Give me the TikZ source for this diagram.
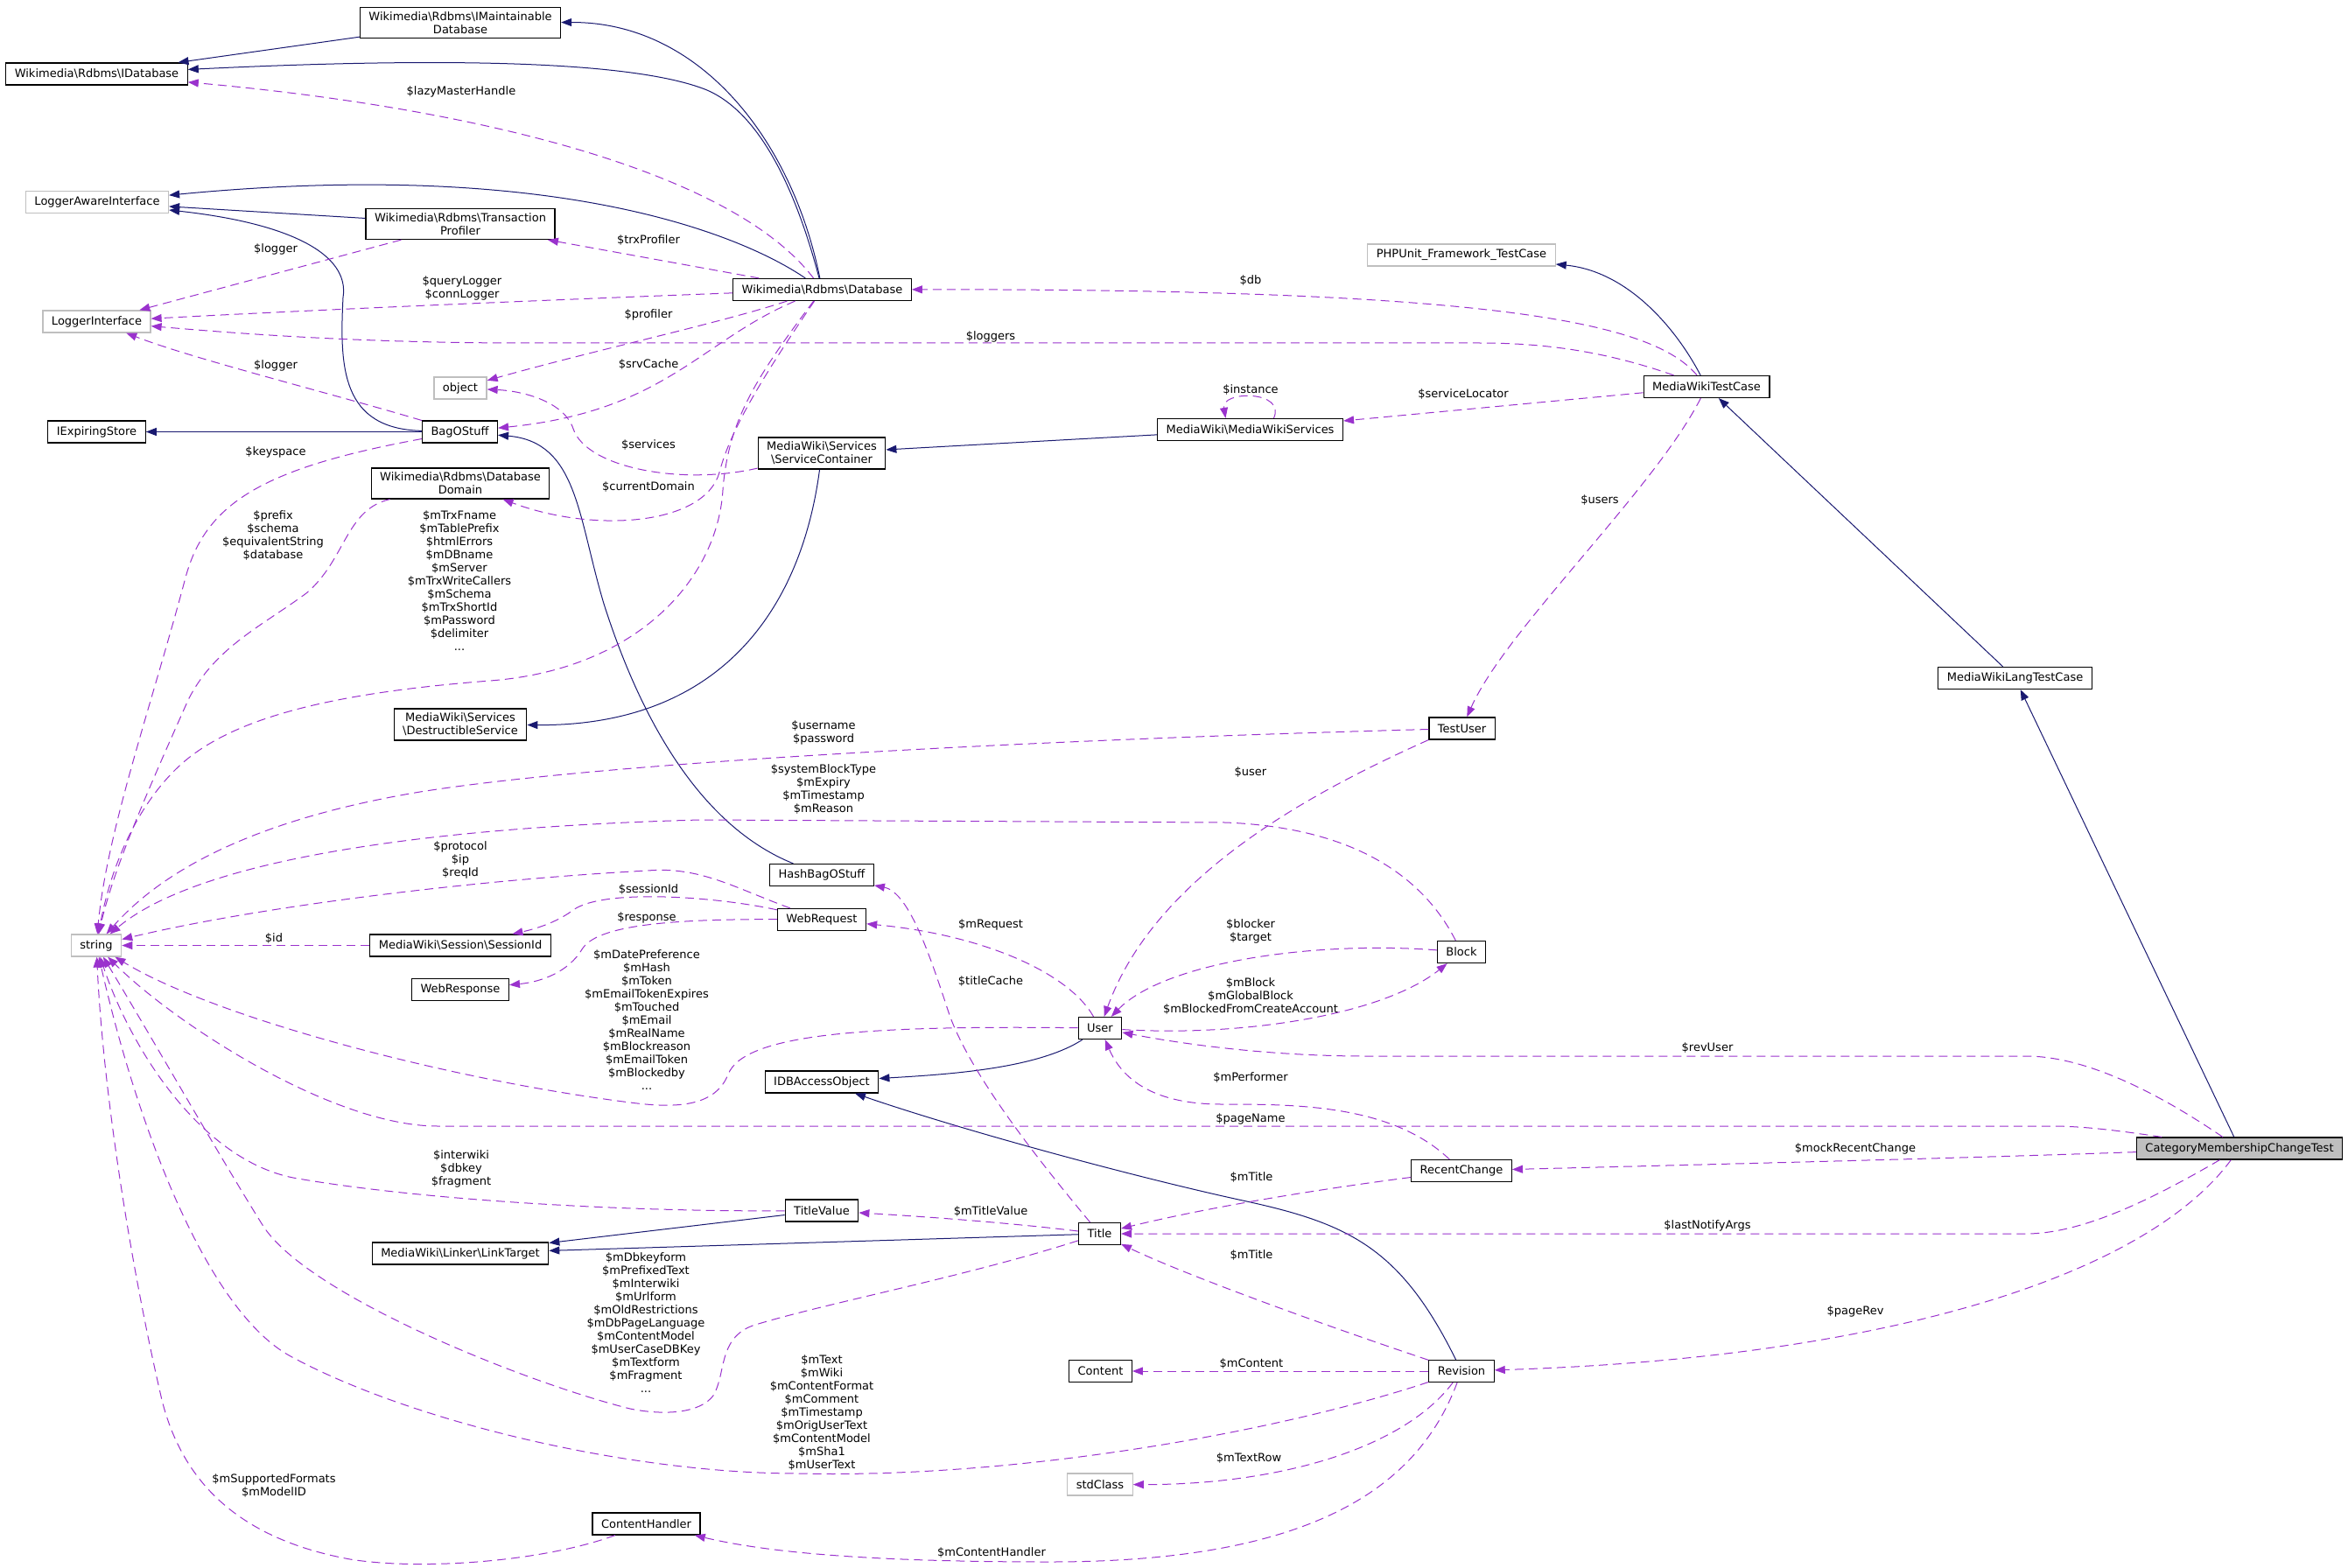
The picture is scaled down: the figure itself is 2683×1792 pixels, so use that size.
\documentclass[tikz,border=0pt]{standalone}
\usepackage{fontspec}
\setmainfont{DejaVu Sans}
\usetikzlibrary{arrows.meta,calc}
\definecolor{inhblue}{HTML}{191970}
\definecolor{usepurple}{HTML}{9A32CD}
\definecolor{undoc}{HTML}{BFBFBF}
\newcommand{\bsl}{\textbackslash}

\begin{document}
\begin{tikzpicture}[
  x=0.5pt, y=-0.5pt,
  cls/.style={draw=black, line width=0.6pt, fill=white, inner xsep=5pt, inner ysep=2.5pt, minimum height=12.5pt, align=center, font=\fontsize{6.5}{7.5}\selectfont},
  ext/.style={cls, draw=undoc},
  focus/.style={cls, fill=undoc},
  lbl/.style={align=center, inner sep=0pt, font=\fontsize{6.5}{7.5}\selectfont},
  inh/.style={draw=inhblue, line width=0.5pt, -{Triangle[length=6pt,width=4.5pt]}},
  use/.style={draw=usepurple, line width=0.5pt, dash pattern=on 5pt off 3pt, -{Triangle[length=6pt,width=4.5pt]}}
]
\useasboundingbox (0,0) rectangle (2683,1792);

\node[cls] (imdb) at (526,26) {Wikimedia\bsl Rdbms\bsl IMaintainable\\Database};
\node[cls] (idb) at (110.5,84.5) {Wikimedia\bsl Rdbms\bsl IDatabase};
\node[ext] (lai) at (111,231) {LoggerAwareInterface};
\node[cls] (tprof) at (526,256) {Wikimedia\bsl Rdbms\bsl Transaction\\Profiler};
\node[cls] (db) at (939.5,331) {Wikimedia\bsl Rdbms\bsl Database};
\node[ext] (logi) at (110.5,367.5) {LoggerInterface};
\node[ext] (obj) at (526,443.5) {object};
\node[cls] (iexp) at (110.5,493.5) {IExpiringStore};
\node[cls] (bag) at (525.5,493.5) {BagOStuff};
\node[cls] (scont) at (939,518) {MediaWiki\bsl Services\\\bsl ServiceContainer};
\node[cls] (dbdom) at (526,552.5) {Wikimedia\bsl Rdbms\bsl Database\\Domain};
\node[cls] (dserv) at (526,828) {MediaWiki\bsl Services\\\bsl DestructibleService};
\node[cls] (hbag) at (939,1000) {HashBagOStuff};
\node[ext] (str) at (110,1080.5) {string};
\node[cls] (sess) at (526,1080.5) {MediaWiki\bsl Session\bsl SessionId};
\node[cls] (wreq) at (939,1051) {WebRequest};
\node[cls] (wresp) at (526,1131) {WebResponse};
\node[cls] (idbao) at (939,1236.5) {IDBAccessObject};
\node[cls] (tval) at (939,1383.5) {TitleValue};
\node[cls] (ltgt) at (526,1432.5) {MediaWiki\bsl Linker\bsl LinkTarget};
\node[cls] (user) at (1257,1175) {User};
\node[cls] (title) at (1256.5,1410) {Title};
\node[cls] (content) at (1257.5,1567) {Content};
\node[ext] (stdc) at (1257,1696.5) {stdClass};
\node[cls] (chand) at (738.5,1741.5) {ContentHandler};
\node[ext] (phpu) at (1670,291.5) {PHPUnit\_Framework\_TestCase};
\node[cls] (mwsrv) at (1428.5,491) {MediaWiki\bsl MediaWikiServices};
\node[cls] (mwtc) at (1950,442) {MediaWikiTestCase};
\node[cls] (mwltc) at (2302.5,775) {MediaWikiLangTestCase};
\node[cls] (tuser) at (1670.5,832.5) {TestUser};
\node[cls] (block) at (1670,1088) {Block};
\node[cls] (rchg) at (1670,1338) {RecentChange};
\node[cls] (rev) at (1670,1567) {Revision};
\node[focus] (cmct) at (2559,1312.5) {CategoryMembershipChangeTest};

\draw[inh] (db) .. controls (905,160) and (800,25) .. (imdb);
\draw[inh] (db) .. controls (905,200) and (860,120) .. (800,100) .. controls (700,65) and (450,68) .. (idb);
\draw[inh] (imdb) -- (idb);
\draw[inh] (tprof) -- (lai);
\draw[inh] (db) .. controls (850,270) and (640,180) .. (lai);
\draw[inh] (bag) .. controls (390,490) and (388,420) .. (392,340) .. controls (400,290) and (330,255) .. (lai);
\draw[inh] (bag) -- (iexp);
\draw[inh] (hbag) .. controls (790,940) and (725,800) .. (690,690) .. controls (660,590) and (660,505) .. (bag);
\draw[inh] (scont) .. controls (915,700) and (820,830) .. (dserv);
\draw[inh] (mwsrv) -- (scont);
\draw[inh] (mwtc) .. controls (1915,375) and (1860,310) .. (phpu);
\draw[inh] (mwltc) -- (mwtc);
\draw[inh] (cmct) -- (mwltc);
\draw[inh] (user) .. controls (1185,1222) and (1080,1228) .. (idbao);
\draw[inh] (rev) .. controls (1600,1425) and (1540,1398) .. (1420,1372) .. controls (1300,1346) and (1100,1292) .. (idbao);
\draw[inh] (tval) -- (ltgt);
\draw[inh] (title) -- (ltgt);

\draw[use] (db) .. controls (840,200) and (560,125) .. (idb);
\draw[use] (db) -- (tprof);
\draw[use] (tprof) -- (logi);
\draw[use] (db) .. controls (700,340) and (400,352) .. (logi);
\draw[use] (mwtc) .. controls (1830,400) and (1760,392) .. (1690,392) -- (600,392) .. controls (400,392) and (260,380) .. (logi);
\draw[use] (db) .. controls (820,370) and (680,400) .. (obj);
\draw[use] (scont) .. controls (780,555) and (670,535) .. (655,490) .. controls (645,460) and (600,447) .. (obj);
\draw[use] (db) .. controls (800,390) and (760,470) .. (bag);
\draw[use] (bag) .. controls (380,450) and (220,410) .. (logi);
\draw[use] (bag) .. controls (300,535) and (235,575) .. (212,660) .. controls (175,800) and (122,950) .. (str);
\draw[use] (dbdom) .. controls (395,582) and (395,640) .. (350,678) .. controls (300,715) and (245,740) .. (215,800) .. controls (175,890) and (130,990) .. (str);
\draw[use] (db) .. controls (872,430) and (835,490) .. (822,540) .. controls (805,600) and (680,610) .. (dbdom);
\draw[use] (db) .. controls (865,430) and (832,480) .. (826,560) .. controls (820,660) and (730,765) .. (560,778) .. controls (380,792) and (260,820) .. (200,880) .. controls (150,930) and (125,1000) .. (str);
\draw[use] (mwtc) .. controls (1890,370) and (1720,330) .. (db);
\draw[use] (mwtc) -- (mwsrv);
\draw[use] ($(mwsrv.north)+(27,0)$) .. controls (1470,446) and (1395,446) .. ($(mwsrv.north)+(-28,0)$);
\draw[use] (mwtc) .. controls (1890,560) and (1720,720) .. (tuser);
\draw[use] (tuser) .. controls (1200,845) and (700,870) .. (480,905) .. controls (300,935) and (190,990) .. (str);
\draw[use] (block) .. controls (1620,990) and (1530,945) .. (1400,940) -- (800,937) .. controls (500,945) and (230,980) .. (str);
\draw[use] (wreq) .. controls (840,1015) and (800,990) .. (740,995) .. controls (550,1005) and (300,1035) .. (str);
\draw[use] (wreq) .. controls (820,1025) and (690,1015) .. (655,1040) .. controls (635,1055) and (610,1062) .. (sess);
\draw[use] (wreq) .. controls (750,1050) and (680,1060) .. (665,1085) .. controls (650,1110) and (620,1122) .. (wresp);
\draw[use] (sess) -- (str);
\draw[use] (user) .. controls (1220,1110) and (1120,1068) .. (wreq);
\draw[use] (tuser.south west) .. controls (1500,905) and (1320,1000) .. (user);
\draw[use] (block) .. controls (1500,1075) and (1330,1100) .. (user);
\draw[use] (user) .. controls (1420,1185) and (1580,1160) .. (block);
\draw[use] (cmct) .. controls (2460,1245) and (2380,1207) .. (2315,1207) -- (1560,1207) .. controls (1450,1207) and (1350,1193) .. (user);
\draw[use] (rchg) .. controls (1590,1262) and (1480,1262) .. (1396,1262) .. controls (1320,1262) and (1283,1235) .. (user);
\draw[use] (cmct) .. controls (2420,1292) and (2380,1287) .. (2345,1287) -- (500,1287) .. controls (380,1287) and (200,1170) .. (str);
\draw[use] (cmct) .. controls (2200,1325) and (1900,1332) .. (rchg);
\draw[use] (rchg) .. controls (1500,1360) and (1380,1380) .. (title);
\draw[use] (cmct) .. controls (2460,1370) and (2380,1410) .. (2315,1410) -- (title);
\draw[use] (cmct) .. controls (2450,1460) and (2150,1552) .. (rev);
\draw[use] (rev) .. controls (1500,1510) and (1350,1455) .. (title);
\draw[use] (rev) -- (content);
\draw[use] (rev) .. controls (1600,1660) and (1450,1697) .. (stdc);
\draw[use] (rev) .. controls (1620,1700) and (1500,1785) .. (1200,1785) .. controls (1000,1785) and (880,1775) .. (chand);
\draw[use] (rev) .. controls (1450,1640) and (1150,1690) .. (912,1684) .. controls (720,1684) and (470,1625) .. (332,1550) .. controls (240,1500) and (160,1300) .. (str);
\draw[use] (title) .. controls (1100,1460) and (940,1490) .. (860,1515) .. controls (820,1530) and (830,1570) .. (815,1595) .. controls (800,1615) and (760,1618) .. (720,1610) .. controls (600,1580) and (350,1480) .. (300,1400) .. controls (250,1320) and (170,1180) .. (str);
\draw[use] (tval) .. controls (700,1385) and (470,1370) .. (335,1346) .. controls (230,1325) and (150,1200) .. (str);
\draw[use] (user) .. controls (1000,1172) and (850,1180) .. (832,1228) .. controls (818,1262) and (780,1268) .. (720,1260) .. controls (500,1232) and (240,1160) .. (str);
\draw[use] (title) .. controls (1190,1330) and (1110,1230) .. (1085,1160) .. controls (1065,1100) and (1040,1020) .. (hbag);
\draw[use] (title) .. controls (1150,1397) and (1050,1390) .. (tval);
\draw[use] (chand) .. controls (620,1785) and (480,1795) .. (400,1782) .. controls (280,1760) and (210,1700) .. (185,1600) .. controls (150,1450) and (118,1250) .. (str);

\node[lbl] (lLazy) at (527,105) {\$lazyMasterHandle};
\node[lbl] (lTrx) at (741,275) {\$trxProfiler};
\node[lbl] (lLogA) at (315,285) {\$logger};
\node[lbl] (lQuery) at (528,329) {\$queryLogger\\\$connLogger};
\node[lbl] (lProf) at (741,360) {\$profiler};
\node[lbl] (lLoggers) at (1132,385) {\$loggers};
\node[lbl] (lLogB) at (315,418) {\$logger};
\node[lbl] (lSrv) at (741,417) {\$srvCache};
\node[lbl] (lInst) at (1429,446) {\$instance};
\node[lbl] (lLoc) at (1672,451) {\$serviceLocator};
\node[lbl] (lDb) at (1429,321) {\$db};
\node[lbl] (lServ) at (741,509) {\$services};
\node[lbl] (lKey) at (315,517) {\$keyspace};
\node[lbl] (lDom) at (741,557) {\$currentDomain};
\node[lbl] (lPrefix) at (312,612) {\$prefix\\\$schema\\\$equivalentString\\\$database};
\node[lbl] (lTrxF) at (525,664) {\$mTrxFname\\\$mTablePrefix\\\$htmlErrors\\\$mDBname\\\$mServer\\\$mTrxWriteCallers\\\$mSchema\\\$mTrxShortId\\\$mPassword\\\$delimiter\\...};
\node[lbl] (lUsers) at (1828,572) {\$users};
\node[lbl] (lUname) at (941,837) {\$username\\\$password};
\node[lbl] (lUser) at (1429,883) {\$user};
\node[lbl] (lSys) at (941,902) {\$systemBlockType\\\$mExpiry\\\$mTimestamp\\\$mReason};
\node[lbl] (lProt) at (526,983) {\$protocol\\\$ip\\\$reqId};
\node[lbl] (lSess) at (741,1017) {\$sessionId};
\node[lbl] (lResp) at (739,1049) {\$response};
\node[lbl] (lReq) at (1132,1057) {\$mRequest};
\node[lbl] (lId) at (313,1073) {\$id};
\node[lbl] (lBlk) at (1429,1064) {\$blocker\\\$target};
\node[lbl] (lCache) at (1132,1122) {\$titleCache};
\node[lbl] (lMBlk) at (1429,1139) {\$mBlock\\\$mGlobalBlock\\\$mBlockedFromCreateAccount};
\node[lbl] (lPref) at (739,1166) {\$mDatePreference\\\$mHash\\\$mToken\\\$mEmailTokenExpires\\\$mTouched\\\$mEmail\\\$mRealName\\\$mBlockreason\\\$mEmailToken\\\$mBlockedby\\...};
\node[lbl] (lRevU) at (1951,1198) {\$revUser};
\node[lbl] (lPerf) at (1429,1232) {\$mPerformer};
\node[lbl] (lPage) at (1429,1279) {\$pageName};
\node[lbl] (lMock) at (2120,1313) {\$mockRecentChange};
\node[lbl] (lInter) at (527,1336) {\$interwiki\\\$dbkey\\\$fragment};
\node[lbl] (lTitA) at (1430,1346) {\$mTitle};
\node[lbl] (lTVal) at (1132,1385) {\$mTitleValue};
\node[lbl] (lNotify) at (1951,1401) {\$lastNotifyArgs};
\node[lbl] (lTitB) at (1430,1435) {\$mTitle};
\node[lbl] (lDbk) at (738,1512) {\$mDbkeyform\\\$mPrefixedText\\\$mInterwiki\\\$mUrlform\\\$mOldRestrictions\\\$mDbPageLanguage\\\$mContentModel\\\$mUserCaseDBKey\\\$mTextform\\\$mFragment\\...};
\node[lbl] (lPRev) at (2120,1499) {\$pageRev};
\node[lbl] (lCont) at (1430,1559) {\$mContent};
\node[lbl] (lText) at (939,1615) {\$mText\\\$mWiki\\\$mContentFormat\\\$mComment\\\$mTimestamp\\\$mOrigUserText\\\$mContentModel\\\$mSha1\\\$mUserText};
\node[lbl] (lRow) at (1427,1667) {\$mTextRow};
\node[lbl] (lFmt) at (313,1698) {\$mSupportedFormats\\\$mModelID};
\node[lbl] (lHand) at (1133,1775) {\$mContentHandler};
\end{tikzpicture}
\end{document}
